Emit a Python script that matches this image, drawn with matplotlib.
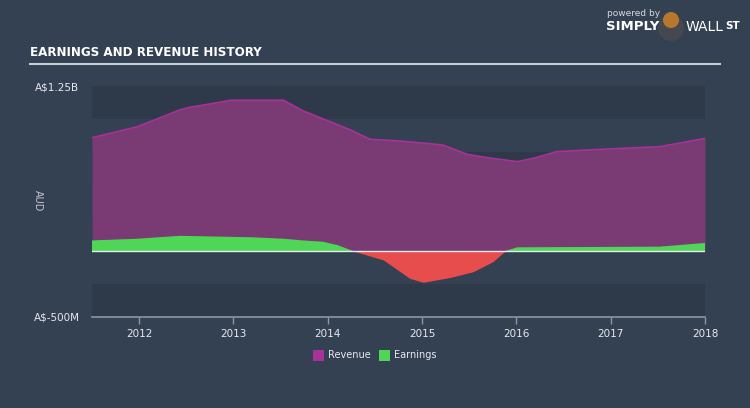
"""Earnings and revenue history chart (Simply Wall St style)."""

import numpy as np
import matplotlib
matplotlib.use("Agg")
import matplotlib.pyplot as plt
from matplotlib.patches import Rectangle, Ellipse

# Revenue, A$ billions
rev_years = [2011.50, 2011.98, 2012.43, 2012.54, 2012.75, 2012.97, 2013.53, 2013.74,
             2014.24, 2014.45, 2014.77, 2015.22, 2015.48, 2015.69, 2016.01, 2016.18,
             2016.43, 2016.89, 2017.52, 2018.00]
revenue = [0.858, 0.941, 1.068, 1.089, 1.114, 1.142, 1.142, 1.061,
           0.917, 0.846, 0.833, 0.803, 0.732, 0.707, 0.677, 0.702,
           0.753, 0.770, 0.790, 0.853]

# Earnings, A$ billions
earn_years = [2011.50, 2011.98, 2012.43, 2013.20, 2013.53, 2013.74, 2013.95, 2014.10,
              2014.27, 2014.59, 2014.87, 2015.01, 2015.30, 2015.54, 2015.75, 2015.88,
              2016.01, 2017.52, 2018.00]
earnings = [0.080, 0.093, 0.115, 0.104, 0.093, 0.080, 0.070, 0.045,
            0.000, -0.068, -0.207, -0.237, -0.200, -0.157, -0.081, 0.000,
            0.028, 0.033, 0.061]

year_ticks = [2012, 2013, 2014, 2015, 2016, 2017, 2018]
y_min, y_max = -0.5, 1.25

BG = "#344152"
BAND = "#2e3a4a"
REV_FILL = "#7a3a73"
REV_LINE = "#a8329a"
EARN_POS = "#4fd656"
EARN_NEG = "#e84d4d"
TEXT = "#e6e9ee"

fig = plt.figure(figsize=(7.5, 4.08), dpi=100, facecolor=BG)
ax = fig.add_axes([92 / 750, 91 / 408, 613 / 750, 231 / 408])
ax.set_facecolor(BG)

# alternating horizontal bands every 250M
edges = np.arange(y_max, y_min - 0.01, -0.25)
for i in range(len(edges) - 1):
    if i % 2 == 0:
        ax.axhspan(edges[i + 1], edges[i], color=BAND, lw=0, zorder=0)

ax.fill_between(rev_years, 0, revenue, color=REV_FILL, lw=0, zorder=2)
ax.plot(rev_years, revenue, color=REV_LINE, lw=1.2, zorder=3)

ex = np.array(earn_years)
ey = np.array(earnings)
ax.fill_between(ex, 0, ey, where=ey >= 0, interpolate=True, color=EARN_POS, lw=0, zorder=4)
ax.fill_between(ex, 0, ey, where=ey <= 0, interpolate=True, color=EARN_NEG, lw=0, zorder=4)
ax.axhline(0, color="#e8ebef", lw=1.0, zorder=5)

ax.set_xlim(2011.5, 2018.0)
ax.set_ylim(y_min, y_max)
for s in ["top", "right", "left"]:
    ax.spines[s].set_visible(False)
ax.spines["bottom"].set_color("#8a97a8")
ax.spines["bottom"].set_linewidth(1.2)
ax.set_xticks(year_ticks)
ax.set_xticklabels([str(y) for y in year_ticks])
ax.tick_params(axis="x", colors="#8a97a8", labelcolor=TEXT, labelsize=7.5, length=5, width=1)
ax.set_yticks([y_min, y_max])
ax.set_yticklabels(["A$-500M", "A$1.25B"])
ax.tick_params(axis="y", length=0, labelcolor=TEXT, labelsize=7.5, pad=9)
fig.text(38 / 750, 1 - 201 / 408, "AUD", color=TEXT, fontsize=7, rotation=270,
         ha="center", va="center", alpha=0.8)

# title and rule
fig.text(30 / 750, 1 - 52 / 408, "EARNINGS AND REVENUE HISTORY", color="white",
         fontsize=9.5, fontweight="bold", family="DejaVu Sans", fontstretch="condensed",
         va="center", ha="left")
fig.add_artist(plt.Line2D([30 / 750, 720 / 750], [1 - 64 / 408, 1 - 64 / 408],
                          color="#c8ced6", lw=1.5))

# branding
fig.text(607 / 750, 1 - 14 / 408, "powered by", color="#d5dae0", fontsize=6.5, va="center")
fig.text(606 / 750, 1 - 27 / 408, "SIMPLY", color="white", fontsize=9.5,
         fontweight="bold", va="center")
fig.add_artist(Ellipse((671 / 750, 1 - 28 / 408), 26 / 750, 26 / 408,
                       facecolor="#45484e", lw=0))
fig.add_artist(Ellipse((671 / 750, 1 - 20 / 408), 16 / 750, 16 / 408,
                       facecolor="#b7782e", lw=0))
fig.text(686 / 750, 1 - 27 / 408, "WALL", color="white", fontsize=10, va="center")
fig.text(725 / 750, 1 - 26 / 408, "ST", color="white", fontsize=7.5, fontweight="bold",
         va="center")

# legend
for x, col, lab in [(313, REV_LINE, "Revenue"), (379, EARN_POS, "Earnings")]:
    fig.add_artist(Rectangle((x / 750, 1 - 361 / 408), 11 / 750, 11 / 408,
                             facecolor=col, lw=0))
    fig.text((x + 15) / 750, 1 - 355.5 / 408, lab, color=TEXT, fontsize=7, va="center")

fig.savefig("out.png", dpi=100, facecolor=BG)
